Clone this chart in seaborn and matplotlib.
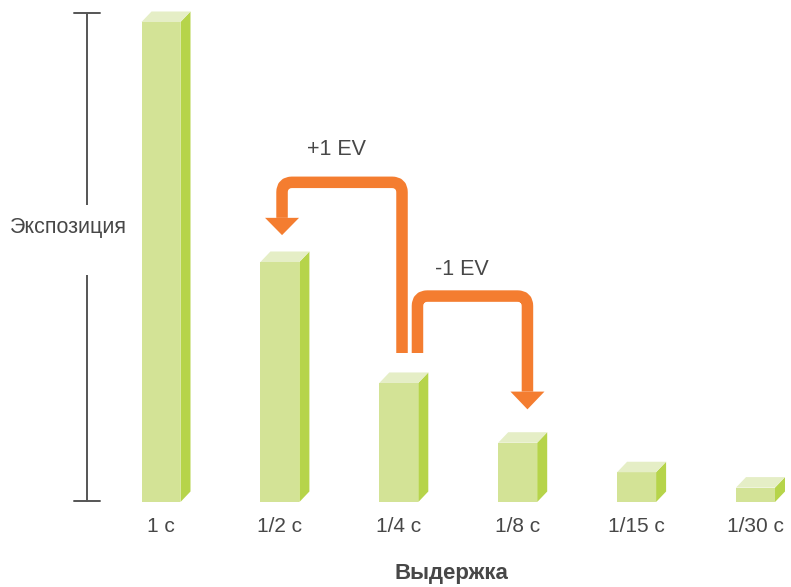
import matplotlib
matplotlib.use("Agg")
import matplotlib.pyplot as plt
import seaborn as sns
import pandas as pd
from matplotlib.path import Path
from matplotlib.patches import PathPatch, Polygon

# ---- data ----
shutter = ["1 с", "1/2 с", "1/4 с", "1/8 с", "1/15 с", "1/30 с"]
exposure = [1.0, 0.5, 0.248, 0.1235, 0.062, 0.030]
x_title = "Выдержка"
y_title = "Экспозиция"
ev_labels = ["+1 EV", "-1 EV"]

front_col = "#D3E396"
side_col = "#B6D44A"
top_col = "#E5EEC6"
orange = "#F47D30"
text_col = "#474747"

sns.set_theme(style="white")
plt.rcParams['font.family'] = ['Liberation Sans', 'DejaVu Sans']

df = pd.DataFrame({"shutter": shutter, "exposure": exposure})

fig = plt.figure(figsize=(7.91, 5.87), dpi=100)
ax = fig.add_axes([0, 85 / 587, 1, 502 / 587])

sns.barplot(data=df, x="shutter", y="exposure", color=front_col, width=0.328,
            saturation=1, ax=ax, zorder=2)

XPX = 118.9   # pixels per category unit
YPX = 480.0   # pixels per value unit
ax.set_xlim(-161 / XPX, (791 - 161) / XPX)
ax.set_ylim(0, 502 / YPX)

# 3D faces from the bar patches
dx, dy = 10 / XPX, 10.5 / YPX
for p in list(ax.patches):
    x0, w, h = p.get_x(), p.get_width(), p.get_height()
    p.set_edgecolor("none")
    side = Polygon([(x0 + w, 0), (x0 + w + dx, dy), (x0 + w + dx, h + dy), (x0 + w, h)],
                   closed=True, facecolor=side_col, edgecolor="none", zorder=2)
    top = Polygon([(x0, h), (x0 + w, h), (x0 + w + dx, h + dy), (x0 + dx, h + dy)],
                  closed=True, facecolor=top_col, edgecolor="none", zorder=2)
    ax.add_patch(side)
    ax.add_patch(top)

for s in ax.spines.values():
    s.set_visible(False)
ax.set_yticks([])
ax.tick_params(axis="x", length=0, pad=10.5, labelsize=15, labelcolor=text_col)

ax.set_xlabel(x_title, fontsize=16, fontweight="bold", color=text_col, va="center")
ax.xaxis.set_label_coords(451 / 791, (502 - 574) / 502)
ax.set_ylabel(y_title, fontsize=15.5, color=text_col, rotation=0, ha="center", va="center")
ax.yaxis.set_label_coords(68 / 791, (502 - 228) / 502)

# custom y axis line with caps and gap for label
yx = (86.7 - 161) / XPX
ytop = (502 - 13.3) / YPX
cap = 13 / XPX
lc = "#555555"
ax.plot([yx, yx], [0, (502 - 275) / YPX], color=lc, lw=1.4, clip_on=False, solid_capstyle="butt")
ax.plot([yx, yx], [(502 - 205) / YPX, ytop], color=lc, lw=1.4, clip_on=False, solid_capstyle="butt")
ax.plot([yx - cap, yx + cap], [0.002, 0.002], color=lc, lw=1.4, clip_on=False)
ax.plot([yx - cap, yx + cap], [ytop, ytop], color=lc, lw=1.4, clip_on=False)


def rounded_path(pts, rpx):
    rx, ry = rpx / XPX, rpx / YPX
    verts = [pts[0]]
    codes = [Path.MOVETO]
    for k in range(1, len(pts) - 1):
        (ax_, ay), (px, py), (bx, by) = pts[k - 1], pts[k], pts[k + 1]

        def toward(qx, qy):
            if abs(qx - px) > 1e-9:
                return (px + rx * (1 if qx > px else -1), py)
            return (px, py + ry * (1 if qy > py else -1))
        p1 = toward(ax_, ay)
        p2 = toward(bx, by)
        verts += [p1, (px, py), p2]
        codes += [Path.LINETO, Path.CURVE3, Path.CURVE3]
    verts.append(pts[-1])
    codes.append(Path.LINETO)
    return Path(verts, codes)


def bent_arrow(pts, tip_y):
    path = rounded_path(pts, 10)
    ax.add_patch(PathPatch(path, facecolor="none", edgecolor=orange, lw=11.5 * 0.72,
                           capstyle="butt", joinstyle="round", zorder=3))
    hx, hy = pts[-1]
    hw = 17 / XPX
    ax.add_patch(Polygon([(hx - hw, hy), (hx + hw, hy), (hx, tip_y)], closed=True,
                         facecolor=orange, edgecolor="none", zorder=3))


start_v = (502 - 353) / YPX
# +1 EV: from 1/4 s to 1/2 s
bent_arrow([(2 + 0.027, start_v), (2 + 0.027, 0.666), (1 + 0.018, 0.666), (1 + 0.018, 0.592)], 0.556)
# -1 EV: from 1/4 s to 1/8 s
bent_arrow([(2 + 0.157, start_v), (2 + 0.157, 0.429), (3 + 0.082, 0.429), (3 + 0.082, 0.230)], 0.193)

ax.text(1.476, 0.735, ev_labels[0], fontsize=15.5, color=text_col, ha="center", va="center")
ax.text(2.527, 0.485, ev_labels[1], fontsize=15.5, color=text_col, ha="center", va="center")

fig.savefig("out.png", dpi=100)
